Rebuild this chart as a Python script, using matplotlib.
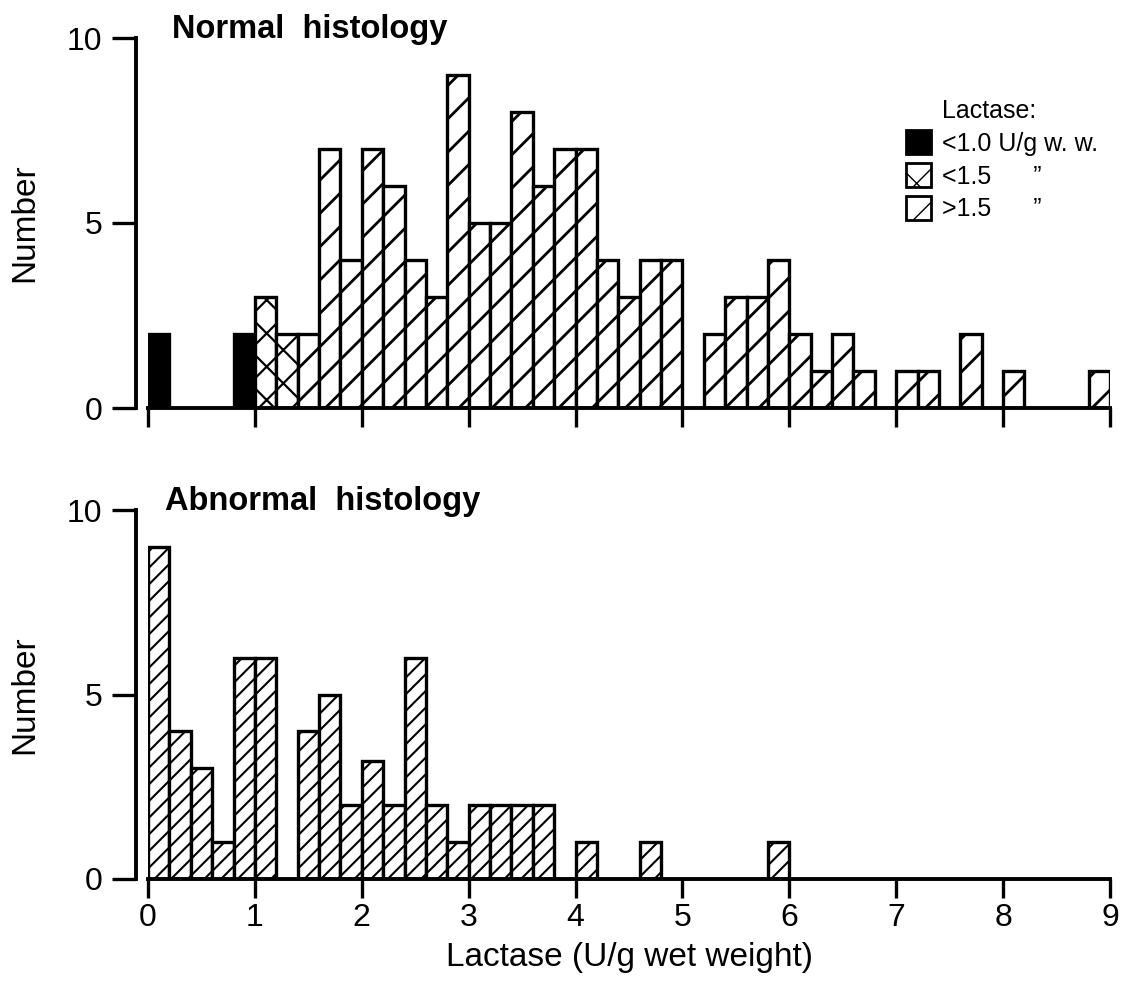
import matplotlib
matplotlib.use("Agg")
import matplotlib.pyplot as plt
from matplotlib.patches import Patch
import numpy as np

plt.rcParams['font.family'] = ['Liberation Sans', 'DejaVu Sans']

# ---- data ----
bin_width = 0.2
top_bin_starts = [round(i * 0.2, 1) for i in range(45)]
top_counts = [2, 0, 0, 0, 2, 3, 2, 2, 7, 4,
              7, 6, 4, 3, 9, 5, 5, 8, 6, 7,
              7, 4, 3, 4, 4, 0, 2, 3, 3, 4,
              2, 1, 2, 1, 0, 1, 1, 0, 2, 0,
              1, 0, 0, 0, 1]
# category boundaries used for the fill style in the upper panel
black_below = 1.0
cross_below = 1.4

bottom_bin_starts = [round(i * 0.2, 1) for i in range(30)]
bottom_counts = [9, 4, 3, 1, 6, 6, 0, 4, 5, 2,
                 3.2, 2, 6, 2, 1, 2, 2, 2, 2, 0,
                 1, 0, 0, 1, 0, 0, 0, 0, 0, 1]

x_ticks = [0, 1, 2, 3, 4, 5, 6, 7, 8, 9]
y_ticks = [0, 5, 10]
titles = ["Normal  histology", "Abnormal  histology"]
legend_title = "Lactase:"
legend_labels = ["<1.0 U/g w. w.", "<1.5      \u201d", ">1.5      \u201d"]
xlabel = "Lactase (U/g wet weight)"
ylabel = "Number"

W, H = 1122, 983
fig = plt.figure(figsize=(W / 100, H / 100), dpi=100)
fig.patch.set_facecolor('white')

ax1 = fig.add_axes([148 / W, 1 - 408 / H, 962 / W, 370 / H])
ax2 = fig.add_axes([148 / W, 1 - 879 / H, 962 / W, 369 / H])

edge_lw = 2.4


def style_axis(ax, show_xlabels):
    ax.set_xlim(0, 9)
    ax.set_ylim(0, 10)
    for s in ['top', 'right']:
        ax.spines[s].set_visible(False)
    ax.spines['left'].set_position(('outward', 9))
    ax.spines['left'].set_linewidth(2.8)
    ax.spines['bottom'].set_linewidth(2.8)
    ax.spines['left'].set_bounds(0, 10)
    ax.spines['bottom'].set_bounds(0, 9)
    ax.set_xticks(x_ticks)
    ax.set_yticks(y_ticks)
    ax.tick_params(axis='y', length=17, width=2.4, pad=7, labelsize=23)
    ax.tick_params(axis='x', length=14, width=2.4, pad=3, labelsize=23,
                   labelbottom=show_xlabels)
    ax.set_ylabel(ylabel, fontsize=24)
    ax.yaxis.set_label_coords(-0.112, 0.5)


def draw_bar(ax, x, h, hatch, face, hlw):
    bars = ax.bar([x], [h], width=bin_width, align='edge', facecolor=face,
                  edgecolor='black', linewidth=edge_lw, hatch=hatch, zorder=2)
    for b in bars:
        if hasattr(b, 'set_hatch_linewidth'):
            b.set_hatch_linewidth(hlw)


# upper panel
for x, h in zip(top_bin_starts, top_counts):
    if h <= 0:
        continue
    if x < black_below - 1e-9:
        draw_bar(ax1, x, h, None, 'black', 2.0)
    elif x < cross_below - 1e-9:
        draw_bar(ax1, x, h, 'x', 'white', 1.6)
    else:
        draw_bar(ax1, x, h, '/', 'white', 2.0)

# lower panel
for x, h in zip(bottom_bin_starts, bottom_counts):
    if h <= 0:
        continue
    draw_bar(ax2, x, h, '//', 'white', 1.5)

style_axis(ax1, False)
style_axis(ax2, True)
ax2.set_xlabel(xlabel, fontsize=24, labelpad=7)

ax1.text(0.025, 1.0, titles[0], transform=ax1.transAxes, fontsize=23.5,
         fontweight='bold', va='baseline', ha='left')
ax2.text(0.018, 1.0, titles[1], transform=ax2.transAxes, fontsize=23.5,
         fontweight='bold', va='baseline', ha='left')

# legend
handles = [Patch(facecolor='none', edgecolor='none'),
           Patch(facecolor='black', edgecolor='black', linewidth=2),
           Patch(facecolor='white', edgecolor='black', hatch='x', linewidth=2),
           Patch(facecolor='white', edgecolor='black', hatch='/', linewidth=2)]
labels = [legend_title] + legend_labels
leg = ax1.legend(handles, labels, loc='upper left',
                 bbox_to_anchor=(906 / W, 1 - 97 / H),
                 bbox_transform=fig.transFigure, frameon=False,
                 fontsize=18, handlelength=1.0, handleheight=1.1,
                 handletextpad=0.45, labelspacing=0.3, borderpad=0,
                 borderaxespad=0)

fig.savefig('out.png', dpi=100, facecolor='white')
